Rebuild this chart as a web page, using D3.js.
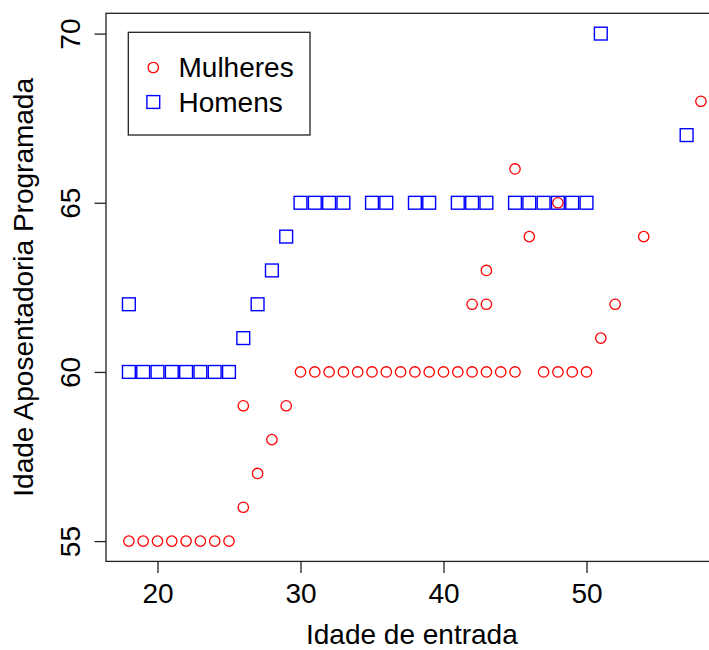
<!DOCTYPE html>
<html>
<head>
<meta charset="utf-8">
<script src="https://cdn.jsdelivr.net/npm/d3@7"></script>
<style>
  html, body { margin: 0; padding: 0; background: #fff; }
  svg { display: block; }
  text { font-family: "Liberation Sans", Arial, sans-serif; fill: #000; }
</style>
</head>
<body>
<div id="chart"></div>
<script>
// Entry age vs. programmed retirement age, by sex
const womenAge    = [18, 19, 20, 21, 22, 23, 24, 25, 26, 26, 27, 28, 29,
                     30, 31, 32, 33, 34, 35, 36, 37, 38, 39, 40, 41, 42, 43, 44, 45,
                     42, 43, 43, 45, 46, 47, 48, 49, 50, 48, 51, 52, 54, 58];
const womenRetire = [55, 55, 55, 55, 55, 55, 55, 55, 56, 59, 57, 58, 59,
                     60, 60, 60, 60, 60, 60, 60, 60, 60, 60, 60, 60, 60, 60, 60, 60,
                     62, 62, 63, 66, 64, 60, 60, 60, 60, 65, 61, 62, 64, 68];

const menAge    = [18, 18, 19, 20, 21, 22, 23, 24, 25, 26, 27, 28, 29,
                   30, 31, 32, 33, 35, 36, 38, 39, 41, 42, 43, 45, 46, 47, 48, 49, 50, 51, 57];
const menRetire = [62, 60, 60, 60, 60, 60, 60, 60, 60, 61, 62, 63, 64,
                   65, 65, 65, 65, 65, 65, 65, 65, 65, 65, 65, 65, 65, 65, 65, 65, 65, 70, 67];

const xTicks = [20, 30, 40, 50];
const yTicks = [55, 60, 65, 70];
const seriesNames = ["Mulheres", "Homens"];
const xTitle = "Idade de entrada";
const yTitle = "Idade Aposentadoria Programada";

const W = 709, H = 650;
const plot = { left: 106, top: 13.3, bottom: 561.4, right: 723.8 };
const fontSize = 28;
const red = "#ff0000", blue = "#0000ff";

const svg = d3.select("#chart").append("svg")
  .attr("width", W).attr("height", H);

// Axis ranges padded 4% beyond the data, like R's default
const xDom = d3.extent([...womenAge, ...menAge]);
const yDom = d3.extent([...womenRetire, ...menRetire]);
const xPad = (xDom[1] - xDom[0]) * 0.04, yPad = (yDom[1] - yDom[0]) * 0.04;

const x = d3.scaleLinear().domain([xDom[0] - xPad, xDom[1] + xPad]).range([plot.left, plot.right]);
const y = d3.scaleLinear().domain([yDom[0] - yPad, yDom[1] + yPad]).range([plot.bottom, plot.top]);

const tickLen = 11.5;

// x axis
const gx = svg.append("g").attr("transform", `translate(0,${plot.bottom})`)
  .call(d3.axisBottom(x).tickValues(xTicks).tickSize(tickLen).tickFormat(d3.format("d")));
gx.select(".domain").remove();
gx.selectAll(".tick line").attr("stroke", "#222").attr("stroke-width", 1.3);
gx.selectAll(".tick text")
  .attr("y", 41.6).attr("dy", 0)
  .style("font-size", fontSize + "px")
  .style("font-family", '"Liberation Sans", Arial, sans-serif')
  .attr("fill", "#000");

// y axis, labels parallel to the axis
const gy = svg.append("g").attr("transform", `translate(${plot.left},0)`)
  .call(d3.axisLeft(y).tickValues(yTicks).tickSize(tickLen).tickFormat(d3.format("d")));
gy.select(".domain").remove();
gy.selectAll(".tick line").attr("stroke", "#222").attr("stroke-width", 1.3);
gy.selectAll(".tick text")
  .attr("x", 0).attr("y", 0).attr("dy", 0)
  .attr("transform", "translate(-26,0) rotate(-90)")
  .attr("text-anchor", "middle")
  .style("font-size", fontSize + "px")
  .style("font-family", '"Liberation Sans", Arial, sans-serif')
  .attr("fill", "#000");

// Plot frame
svg.append("rect")
  .attr("x", plot.left).attr("y", plot.top)
  .attr("width", plot.right - plot.left).attr("height", plot.bottom - plot.top)
  .attr("fill", "none").attr("stroke", "#222").attr("stroke-width", 1.3);

// Men: open squares
const side = 12.8;
svg.append("g").selectAll("rect")
  .data(menAge.map((a, i) => [a, menRetire[i]]))
  .join("rect")
  .attr("x", d => x(d[0]) - side / 2)
  .attr("y", d => y(d[1]) - side / 2)
  .attr("width", side).attr("height", side)
  .attr("fill", "none").attr("stroke", blue).attr("stroke-width", 1.4);

// Women: open circles
const r = 5.2;
svg.append("g").selectAll("circle")
  .data(womenAge.map((a, i) => [a, womenRetire[i]]))
  .join("circle")
  .attr("cx", d => x(d[0]))
  .attr("cy", d => y(d[1]))
  .attr("r", r)
  .attr("fill", "none").attr("stroke", red).attr("stroke-width", 1.3);

// Axis titles
svg.append("text")
  .attr("x", (plot.left + plot.right) / 2 - 3).attr("y", 644)
  .attr("text-anchor", "middle")
  .style("font-size", fontSize + "px")
  .text(xTitle);

svg.append("text")
  .attr("transform", `translate(33.3,${(plot.top + plot.bottom) / 2}) rotate(-90)`)
  .attr("text-anchor", "middle")
  .style("font-size", fontSize + "px")
  .text(yTitle);

// Legend
const lg = svg.append("g");
lg.append("rect")
  .attr("x", 128.3).attr("y", 32.3).attr("width", 181.7).attr("height", 102.7)
  .attr("fill", "#fff").attr("stroke", "#222").attr("stroke-width", 1.3);
const legendRows = [
  { name: seriesNames[0], cy: 67.5, shape: "circle" },
  { name: seriesNames[1], cy: 102, shape: "square" }
];
legendRows.forEach(row => {
  if (row.shape === "circle") {
    lg.append("circle").attr("cx", 153.3).attr("cy", row.cy).attr("r", r)
      .attr("fill", "none").attr("stroke", red).attr("stroke-width", 1.3);
  } else {
    lg.append("rect").attr("x", 153.3 - side / 2).attr("y", row.cy - side / 2)
      .attr("width", side).attr("height", side)
      .attr("fill", "none").attr("stroke", blue).attr("stroke-width", 1.4);
  }
  lg.append("text")
    .attr("x", 178.5).attr("y", row.cy).attr("dy", "0.35em")
    .style("font-size", fontSize + "px")
    .text(row.name);
});
</script>
</body>
</html>
